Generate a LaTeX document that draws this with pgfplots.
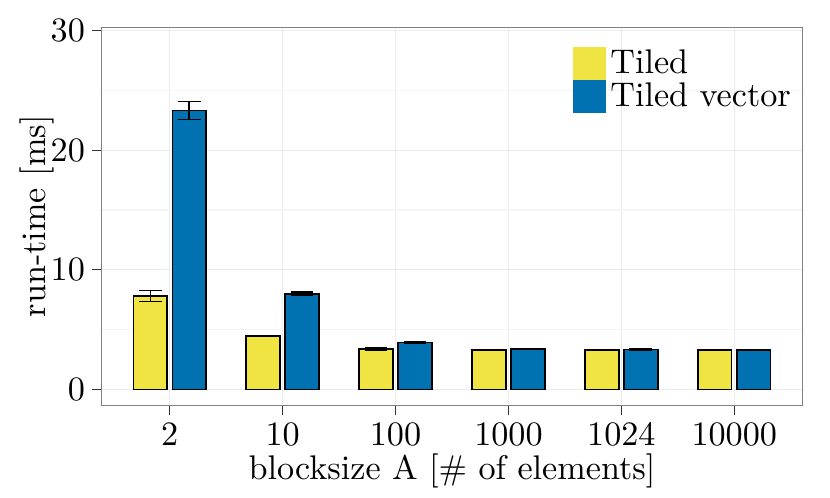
\documentclass[border=0pt]{standalone}
\usepackage{fontspec}
\setmainfont{lmroman10-regular}[Extension=.otf]
\usepackage{pgfplots}
\pgfplotsset{compat=1.18}
\definecolor{tyellow}{HTML}{F0E442}
\definecolor{tblue}{HTML}{0072B2}
\begin{document}
\begin{tikzpicture}[font=\fontsize{17.1}{20.5}\selectfont]
\useasboundingbox (-51pt,-46.35pt) rectangle (364pt,202.65pt);
\begin{axis}[
  at={(0,0)}, anchor=south west,
  scale only axis, width=350pt, height=189pt,
  xmin=-0.6, xmax=5.6, ymin=-1.34, ymax=30.29,
  /pgf/number format/assume math mode=true,
  ybar, bar width=0.3,
  xtick={0,1,2,3,4,5},
  xticklabels={2,10,100,1000,1024,10000},
  ytick={0,10,20,30},
  minor ytick={5,15,25},
  xtick pos=bottom, ytick pos=left,
  tick align=outside, major tick length=5pt, minor tick length=0pt,
  tick style={black!80, line width=0.6pt},
  axis line style={black!50, line width=0.5pt},
  xmajorgrids, ymajorgrids, yminorgrids,
  major grid style={black!8, line width=0.6pt},
  minor grid style={black!4, line width=0.9pt},
  xticklabel style={anchor=base, inner sep=0pt, yshift=-15pt},
  yticklabel style={anchor=east},
  xlabel={blocksize A [\# of elements]},
  ylabel={run-time [ms]},
  xlabel style={at={(axis description cs:0.5,-0.195)}, anchor=base, inner sep=0pt},
  ylabel style={at={(axis description cs:-0.0814,0.5)}, anchor=base, inner sep=0pt},
  error bars/error bar style={line width=0.75pt, black},
  error bars/error mark options={rotate=90, mark size=5.67pt, line width=0.75pt, black},
  legend image code/.code={\fill[#1, draw=none] (0pt,-8.25pt) rectangle (16.5pt,8.25pt);},
  legend cell align=left,
  legend style={at={(0.6733,0.9487)}, anchor=north west, draw=none, fill=none,
    inner sep=0pt, outer sep=0pt, row sep=0pt, column sep=2pt,
    nodes={inner sep=0pt}},
]
\addplot[fill=tyellow, draw=black, line width=0.75pt, bar shift=-0.1725,
  error bars/.cd, y dir=both, y explicit]
  coordinates {(0,7.81) +- (0,0.47) (1,4.44) +- (0,0.03) (2,3.38) +- (0,0.13)
               (3,3.29) +- (0,0.04) (4,3.29) +- (0,0.04) (5,3.27) +- (0,0.03)};
\addlegendentry{Tiled}
\addplot[fill=tblue, draw=black, line width=0.75pt, bar shift=0.1725,
  error bars/.cd, y dir=both, y explicit]
  coordinates {(0,23.33) +- (0,0.75) (1,7.98) +- (0,0.14) (2,3.91) +- (0,0.03)
               (3,3.38) +- (0,0.05) (4,3.35) +- (0,0.05) (5,3.29) +- (0,0.04)};
\addlegendentry{Tiled vector}
\end{axis}
\end{tikzpicture}
\end{document}
